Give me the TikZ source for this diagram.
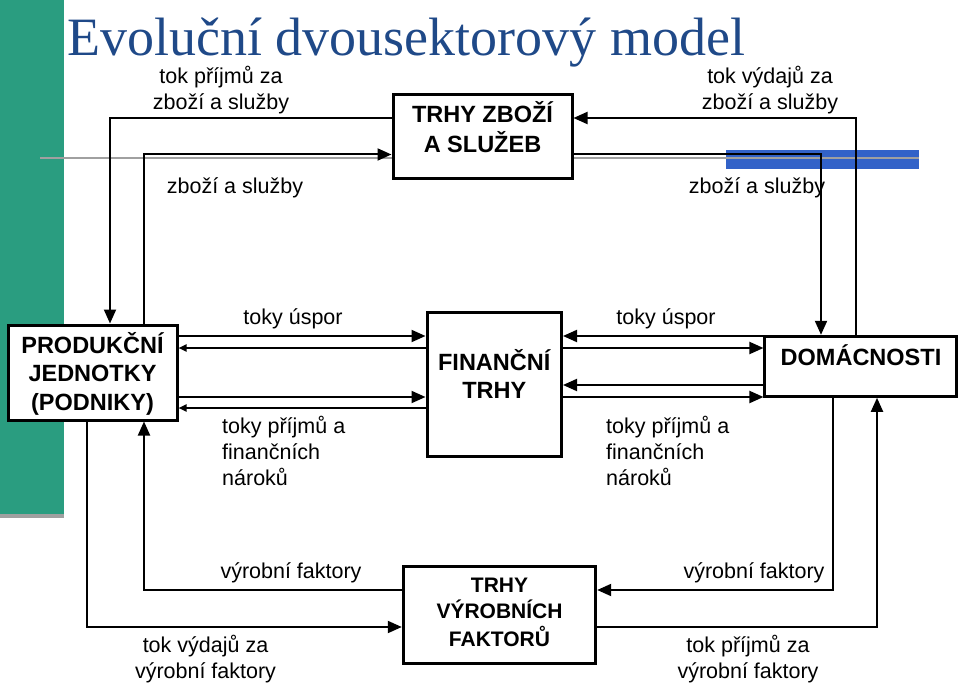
\documentclass[tikz,border=0pt]{standalone}
\usepackage{fontspec}
\setmainfont{Liberation Sans}
\newfontfamily\titlefont{Liberation Serif}
\usetikzlibrary{arrows.meta}
\definecolor{slidegreen}{RGB}{42,157,128}
\definecolor{slideblue}{RGB}{50,98,200}
\definecolor{titleblue}{RGB}{31,73,136}
\definecolor{rulegray}{RGB}{160,160,160}
\begin{document}
\begin{tikzpicture}[x=1pt,y=-1pt,
  box/.style={draw, line width=3pt, fill=white, inner sep=0pt},
  conn/.style={line width=2pt},
  big/.style={-{Triangle[length=14pt,width=12pt]}},
  small/.style={-{Triangle[length=8pt,width=7pt]}},
  lbl/.style={font=\fontsize{21.5}{26}\selectfont, inner sep=0pt, anchor=base},
  boxtxt/.style={font=\bfseries\fontsize{23.5}{29}\selectfont, inner sep=0pt, anchor=base}]
\useasboundingbox (0,0) rectangle (960,684);
% slide decoration
\fill[slidegreen] (0,0) rectangle (64,514);
\fill[rulegray] (0,514) rectangle (64,518);
\fill[slideblue] (726,150) rectangle (919,169);
\draw[rulegray, line width=2pt] (40,158) -- (919,158);
% title
\node[font=\titlefont\fontsize{54}{60}\selectfont, text=titleblue, inner sep=0pt, anchor=base west] (title) at (67,56) {Evoluční dvousektorový model};
% boxes
\node[box, minimum width=179pt, minimum height=84pt] (tzs) at (482.5,137) {};
\node[box, minimum width=169pt, minimum height=95pt] (prod) at (92.5,372.5) {};
\node[box, minimum width=134.5pt, minimum height=144pt] (fin) at (494.25,384.5) {};
\node[box, minimum width=191.7pt, minimum height=60pt] (dom) at (860.8,366.3) {};
\node[box, minimum width=192.4pt, minimum height=96.7pt] (tvf) at (499.5,614.7) {};
% box texts
\node[boxtxt] (tzst) at (482.5,123) {\begin{tabular}[t]{@{}c@{}}TRHY ZBOŽÍ\\A SLUŽEB\end{tabular}};
\node[boxtxt, font=\bfseries\fontsize{23.5}{28.5}\selectfont] (prodt) at (92.5,353) {\begin{tabular}[t]{@{}c@{}}PRODUKČNÍ\\JEDNOTKY\\(PODNIKY)\end{tabular}};
\node[boxtxt, font=\bfseries\fontsize{23.5}{28}\selectfont] (fint) at (494.25,370) {\begin{tabular}[t]{@{}c@{}}FINANČNÍ\\TRHY\end{tabular}};
\node[boxtxt] (domt) at (861,365) {DOMÁCNOSTI};
\node[boxtxt, font=\bfseries\fontsize{21}{25.5}\selectfont] (tvft) at (499.5,592) {\begin{tabular}[t]{@{}c@{}}TRHY\\VÝROBNÍCH\\FAKTORŮ\end{tabular}};
% labels
\node[lbl] (l1) at (221,84) {\begin{tabular}[t]{@{}c@{}}tok příjmů za\\zboží a služby\end{tabular}};
\node[lbl] (l2) at (235,194) {zboží a služby};
\node[lbl] (l3) at (770,84) {\begin{tabular}[t]{@{}c@{}}tok výdajů za\\zboží a služby\end{tabular}};
\node[lbl] (l4) at (757,194) {zboží a služby};
\node[lbl] (l5) at (293,324) {toky úspor};
\node[lbl, anchor=base west] (l6) at (222,433) {\begin{tabular}[t]{@{}l@{}}toky příjmů a\\finančních\\nároků\end{tabular}};
\node[lbl] (l7) at (666,324) {toky úspor};
\node[lbl, anchor=base west] (l8) at (606,433) {\begin{tabular}[t]{@{}l@{}}toky příjmů a\\finančních\\nároků\end{tabular}};
\node[lbl] (l9) at (291,578) {výrobní faktory};
\node[lbl] (l10) at (205.5,652) {\begin{tabular}[t]{@{}c@{}}tok výdajů za\\výrobní faktory\end{tabular}};
\node[lbl] (l11) at (754,578) {výrobní faktory};
\node[lbl] (l12) at (748,652) {\begin{tabular}[t]{@{}c@{}}tok příjmů za\\výrobní faktory\end{tabular}};
% top connectors
\draw[conn,big] (tzs.west |- 0,118) -| (110,0 |- prod.north);
\draw[conn,big] (144,0 |- prod.north) |- (tzs.west |- 0,154.5);
\draw[conn,big] (856,0 |- dom.north) |- (tzs.east |- 0,118);
\draw[conn,big] (tzs.east |- 0,154.5) -| (821,0 |- dom.north);
% middle connectors
\draw[conn,big] (prod.east |- 0,336) -- (fin.west |- 0,336);
\draw[conn,small] (fin.west |- 0,348) -- (prod.east |- 0,348);
\draw[conn,big] (prod.east |- 0,397) -- (fin.west |- 0,397);
\draw[conn,small] (fin.west |- 0,408) -- (prod.east |- 0,408);
\draw[conn,big] (dom.west |- 0,336) -- (fin.east |- 0,336);
\draw[conn,big] (fin.east |- 0,348) -- (dom.west |- 0,348);
\draw[conn,big] (dom.west |- 0,385) -- (fin.east |- 0,385);
\draw[conn,big] (fin.east |- 0,397) -- (dom.west |- 0,397);
% bottom connectors
\draw[conn,big] (87,0 |- prod.south) |- (tvf.west |- 0,627);
\draw[conn,big] (tvf.west |- 0,590) -| (144,0 |- prod.south);
\draw[conn,big] (833,0 |- dom.south) |- (tvf.east |- 0,590);
\draw[conn,big] (tvf.east |- 0,627) -| (877,0 |- dom.south);
\end{tikzpicture}
\end{document}
